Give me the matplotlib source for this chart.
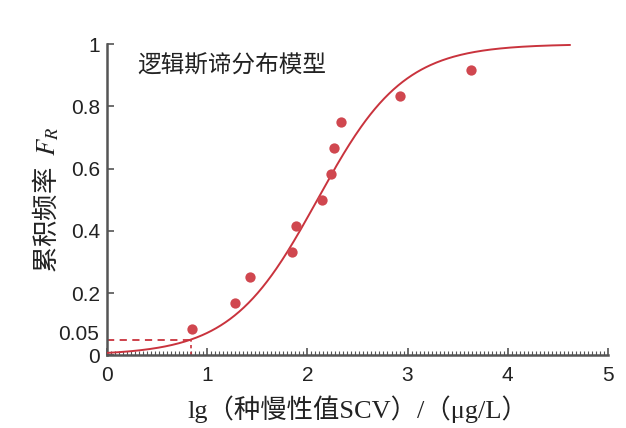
import numpy as np
import matplotlib.pyplot as plt
from matplotlib.ticker import MultipleLocator

plt.rcParams['mathtext.fontset'] = 'stix'

# observed points: lg(SCV) and cumulative frequency
lg_scv = [0.85, 1.28, 1.43, 1.85, 1.89, 2.15, 2.24, 2.27, 2.34, 2.92, 3.63]
freq = [1/12, 2/12, 3/12, 4/12, 5/12, 6/12, 7/12, 8/12, 9/12, 10/12, 11/12]

# logistic fit parameters
mu = 2.1
s = 0.43
x_end = 4.62

hc5_x = 0.835
hc5_y = 0.05

y_ticks = [0, 0.2, 0.4, 0.6, 0.8, 1]
y_ticklabels = ['0', '0.2', '0.4', '0.6', '0.8', '1']
x_ticks = [0, 1, 2, 3, 4, 5]

red = '#c9333d'
dot = '#d0474f'
axcol = '#555555'

fig = plt.figure(figsize=(6.26, 4.28), dpi=100)
ax = fig.add_axes([0.171, 0.170, 0.800, 0.727])

xx = np.linspace(0, x_end, 400)
yy = 1 / (1 + np.exp(-(xx - mu) / s))
ax.plot(xx, yy, color=red, lw=1.4, zorder=3)
ax.scatter(lg_scv, freq, s=55, color=dot, zorder=4, linewidths=0)

ax.plot([0, hc5_x], [hc5_y, hc5_y], color=red, lw=1.3, ls=(0, (4, 3)))
ax.plot([hc5_x, hc5_x], [0, hc5_y], color=red, lw=1.2, ls=(0, (2, 2)))

ax.set_xlim(0, 5)
ax.set_ylim(0, 1)
ax.spines['top'].set_visible(False)
ax.spines['right'].set_visible(False)
for sp in ['left', 'bottom']:
    ax.spines[sp].set_color(axcol)
    ax.spines[sp].set_linewidth(1.8)

ax.set_xticks(x_ticks)
ax.set_yticks(y_ticks)
ax.set_yticklabels(y_ticklabels)
ax.xaxis.set_minor_locator(MultipleLocator(0.04))
ax.tick_params(which='major', direction='in', length=5, width=1.2, color=axcol,
               labelsize=15, labelcolor='#222222')
ax.tick_params(which='minor', direction='in', length=3, width=0.8, color=axcol)
ax.tick_params(axis='x', pad=8)
ax.tick_params(axis='y', pad=5)
for lab in ax.get_xticklabels() + ax.get_yticklabels():
    lab.set_family(['Liberation Sans'])

ax.text(-0.08, 0.068, '0.05', ha='right', va='center', fontsize=15,
        color='#222222', family=['Liberation Sans'])

ax.text(0.3, 0.93, '逻辑斯谛分布模型', fontsize=17, color='#222222',
        va='center', ha='left', family=['Noto Sans CJK SC'])

ax.set_xlabel('lg（种慢性值SCV）/（μg/L）', fontsize=19, color='#222222',
              family=['Liberation Serif', 'Noto Sans CJK SC'], labelpad=7)
ax.set_ylabel('累积频率  $F_R$', fontsize=19, color='#222222',
              family=['Noto Sans CJK SC'], labelpad=7)

fig.savefig('out.png', dpi=100)
